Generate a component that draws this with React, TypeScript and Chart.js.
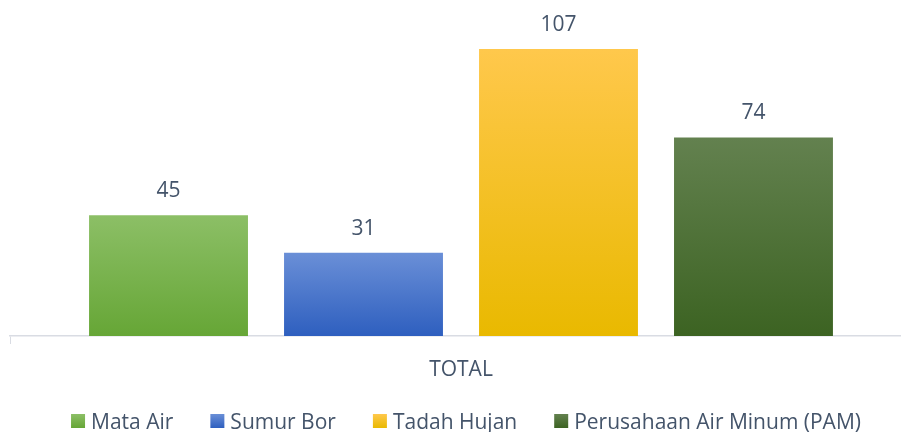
import React, { useEffect, useRef } from "react";
import { Chart, registerables } from "chart.js";

Chart.register(...registerables);

const categories = ["TOTAL"];
const seriesNames = ["Mata Air", "Sumur Bor", "Tadah Hujan", "Perusahaan Air Minum (PAM)"];
const mataAir = [45];
const sumurBor = [31];
const tadahHujan = [107];
const pam = [74];
const yMax = 120;

const gradTop = ["#8cbf66", "#6a8fd7", "#ffc84c", "#63814f"];
const gradBottom = ["#66a636", "#2e5fbf", "#e9b900", "#3c6322"];
const solid = ["#70ad47", "#4472c4", "#ffc000", "#43682b"];

const FONT = "'Open Sans', sans-serif";
const TEXT = "#44546a";

const dataLabels = {
  id: "dataLabels",
  afterDatasetsDraw(chart: any) {
    const ctx = chart.ctx;
    ctx.save();
    ctx.font = `21px ${FONT}`;
    ctx.fillStyle = TEXT;
    ctx.textAlign = "center";
    ctx.textBaseline = "alphabetic";
    chart.data.datasets.forEach((ds: any, i: number) => {
      const meta = chart.getDatasetMeta(i);
      meta.data.forEach((el: any, j: number) => {
        ctx.fillText(String(ds.data[j]), el.x, el.y - 18);
      });
    });
    ctx.restore();
  },
};

const bottomLegend = {
  id: "bottomLegend",
  afterDraw(chart: any) {
    const ctx = chart.ctx;
    ctx.save();
    ctx.font = `21px ${FONT}`;
    const box = 14;
    const boxGap = 6;
    const itemGap = 37;
    const widths = seriesNames.map((n) => box + boxGap + ctx.measureText(n).width);
    const total = widths.reduce((a, b) => a + b, 0) + itemGap * (widths.length - 1);
    let x = 466 - total / 2;
    const baseline = 428.5;
    const boxTop = 414;
    seriesNames.forEach((n, i) => {
      const g = ctx.createLinearGradient(0, boxTop, 0, boxTop + box);
      g.addColorStop(0, gradTop[i]);
      g.addColorStop(1, gradBottom[i]);
      ctx.fillStyle = g;
      ctx.fillRect(x, boxTop, box, box);
      ctx.fillStyle = TEXT;
      ctx.textAlign = "left";
      ctx.textBaseline = "alphabetic";
      ctx.fillText(n, x + box + boxGap, baseline);
      x += widths[i] + itemGap;
    });
    ctx.restore();
  },
};

export default function App() {
  const ref = useRef<HTMLCanvasElement>(null);
  useEffect(() => {
    if (!ref.current) return;
    const series = [mataAir, sumurBor, tadahHujan, pam];
    const makeBg = (i: number) => (c: any) => {
      const chart = c.chart;
      const y = chart.scales?.y;
      if (!chart.chartArea || !y || c.raw === undefined) return solid[i];
      const top = y.getPixelForValue(c.raw);
      const base = y.getPixelForValue(0);
      const g = chart.ctx.createLinearGradient(0, top, 0, base);
      g.addColorStop(0, gradTop[i]);
      g.addColorStop(1, gradBottom[i]);
      return g;
    };
    const chart = new Chart(ref.current, {
      type: "bar",
      data: {
        labels: categories,
        datasets: series.map((d, i) => ({
          label: seriesNames[i],
          data: d,
          backgroundColor: makeBg(i),
          borderWidth: 0,
          categoryPercentage: 0.8647,
          barPercentage: 0.815,
        })),
      },
      options: {
        responsive: false,
        animation: false,
        layout: { padding: { left: 10, right: 10, top: 14, bottom: 56 } },
        scales: {
          x: {
            grid: {
              drawOnChartArea: false,
              drawTicks: true,
              tickLength: 8,
              color: "#d9dce3",
            },
            border: { color: "#d9dce3", width: 1.5 },
            ticks: { color: TEXT, font: { family: FONT, size: 21 }, padding: 13 },
            afterFit: (scale: any) => {
              scale.height = 40;
            },
          },
          y: { display: false, min: 0, max: yMax },
        },
        plugins: {
          legend: { display: false },
          tooltip: { enabled: false },
        },
      },
      plugins: [dataLabels, bottomLegend],
    });
    return () => chart.destroy();
  }, []);
  return (
    <div style={{ position: "absolute", left: 0, top: 0, width: 901, height: 432, overflow: "hidden", background: "#fff" }}>
      <canvas ref={ref} width={922} height={432} style={{ display: "block" }} />
    </div>
  );
}
